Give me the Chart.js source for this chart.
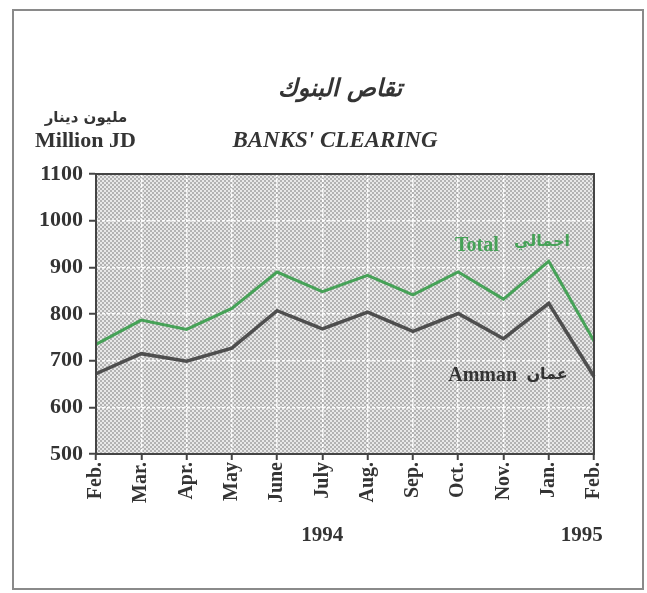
<!DOCTYPE html>
<html>
<head>
<meta charset="utf-8">
<title>Banks' Clearing</title>
<script src="https://cdn.jsdelivr.net/npm/chart.js@4.4.0/dist/chart.umd.min.js"></script>
<style>
    html, body { margin: 0; padding: 0; background: #fff; }
    #wrap { position: relative; width: 647px; height: 593px; }
</style>
</head>
<body>
<div id="wrap"><canvas id="clearing-canvas"></canvas></div>
<script>
// Data (million JD)
const months = ['Feb.', 'Mar.', 'Apr.', 'May', 'June', 'July', 'Aug.', 'Sep.', 'Oct.', 'Nov.', 'Jan.', 'Feb.'];
const totalValues = [735, 787, 767, 812, 890, 848, 883, 841, 890, 832, 913, 742];
const ammanValues = [672, 715, 699, 727, 807, 768, 804, 763, 801, 747, 823, 666];
const yRange = [500, 1100];
const yStep = 100;
const yearLabels = ['1994', '1995'];

const INK = '#343434';
const GREEN = '#46a257';
const SERIF = '"Liberation Serif", "Times New Roman", serif';
const ARABIC = '"DejaVu Sans", sans-serif';

// halftone-ish fill for the plot area
function makeDotPattern(ctx) {
    const tile = document.createElement('canvas');
    tile.width = 4;
    tile.height = 4;
    const t = tile.getContext('2d');
    t.fillStyle = '#e8e8e8';
    t.fillRect(0, 0, 4, 4);
    t.fillStyle = '#b2b2b2';
    t.fillRect(0, 0, 2, 2);
    t.fillRect(2, 2, 2, 2);
    return ctx.createPattern(tile, 'repeat');
}

const decorPlugin = {
    id: 'decor',
    beforeDraw(chart) {
        const { ctx, chartArea: a } = chart;
        ctx.save();
        // outer frame
        ctx.strokeStyle = '#8a8a8a';
        ctx.lineWidth = 2;
        ctx.strokeRect(13, 10, 630, 579);
        // plot background
        ctx.fillStyle = makeDotPattern(ctx);
        ctx.fillRect(a.left, a.top, a.right - a.left, a.bottom - a.top);
        ctx.restore();
    },
    afterDraw(chart) {
        const { ctx, chartArea: a, scales } = chart;
        const x = scales.x, y = scales.y;
        ctx.save();
        // box round the plot
        ctx.strokeStyle = '#444';
        ctx.lineWidth = 2;
        ctx.strokeRect(a.left, a.top, a.right - a.left, a.bottom - a.top);

        ctx.fillStyle = INK;
        ctx.textBaseline = 'alphabetic';

        // titles
        ctx.textAlign = 'center';
        ctx.font = 'bold italic 24px ' + ARABIC;
        ctx.fillText('تقاص البنوك', 340, 96);
        ctx.font = 'bold italic 23px ' + SERIF;
        ctx.fillText("BANKS' CLEARING", 335, 147);

        // unit
        ctx.font = 'bold 15px ' + ARABIC;
        ctx.fillText('مليون دينار', 86, 122);
        ctx.textAlign = 'left';
        ctx.font = 'bold 22px ' + SERIF;
        ctx.fillText('Million JD', 35, 147);

        // series labels
        ctx.font = 'bold 20px ' + SERIF;
        ctx.fillStyle = GREEN;
        ctx.fillText('Total', x.getPixelForValue(7.93), y.getPixelForValue(936));
        ctx.fillStyle = INK;
        ctx.fillText('Amman', x.getPixelForValue(7.78), y.getPixelForValue(656));

        ctx.textAlign = 'right';
        ctx.font = 'bold 16px ' + ARABIC;
        ctx.fillStyle = GREEN;
        ctx.fillText('اجمالي', x.getPixelForValue(10.47), y.getPixelForValue(945));
        ctx.fillStyle = INK;
        ctx.fillText('عمان', x.getPixelForValue(10.42), y.getPixelForValue(660));

        // years under the month labels
        ctx.textAlign = 'center';
        ctx.font = 'bold 21px ' + SERIF;
        ctx.fillText(yearLabels[0], x.getPixelForValue(5), a.bottom + 87);
        ctx.fillText(yearLabels[1], x.getPixelForValue(10.73), a.bottom + 87);
        ctx.restore();
    }
};

const ctx = document.getElementById('clearing-canvas');

new Chart(ctx, {
    type: 'line',
    data: {
        labels: months,
        datasets: [{
            label: 'Total',
            data: totalValues,
            borderColor: GREEN,
            borderWidth: 3,
            pointRadius: 0,
            tension: 0
        }, {
            label: 'Amman',
            data: ammanValues,
            borderColor: '#4e4e4e',
            borderWidth: 3.5,
            pointRadius: 0,
            tension: 0
        }]
    },
    options: {
        responsive: true,
        maintainAspectRatio: false,
        animation: false,
        events: [],
        layout: {
            padding: { left: 0, right: 53, top: 174, bottom: 0 }
        },
        plugins: {
            legend: { display: false },
            tooltip: { enabled: false },
            title: { display: false }
        },
        scales: {
            x: {
                offset: false,
                afterFit: (scale) => { scale.height = 139; },
                grid: {
                    color: 'rgba(255,255,255,0.95)',
                    lineWidth: 1.5,
                    tickColor: '#444',
                    tickWidth: 2,
                    tickLength: 6
                },
                border: { display: true, color: '#444', width: 2, dash: [3, 2] },
                ticks: {
                    color: INK,
                    font: { family: SERIF, size: 20, weight: 'bold' },
                    minRotation: 90,
                    maxRotation: 90,
                    autoSkip: false,
                    padding: 2
                }
            },
            y: {
                min: yRange[0],
                max: yRange[1],
                afterFit: (scale) => { scale.width = 96; },
                grid: {
                    color: 'rgba(255,255,255,0.95)',
                    lineWidth: 1.5,
                    tickColor: '#444',
                    tickWidth: 2,
                    tickLength: 7
                },
                border: { display: true, color: '#444', width: 2, dash: [3, 2] },
                ticks: {
                    stepSize: yStep,
                    color: INK,
                    font: { family: SERIF, size: 22, weight: 'bold' },
                    padding: 6,
                    callback: (value) => String(value)
                }
            }
        }
    },
    plugins: [decorPlugin]
});
</script>
</body>
</html>
